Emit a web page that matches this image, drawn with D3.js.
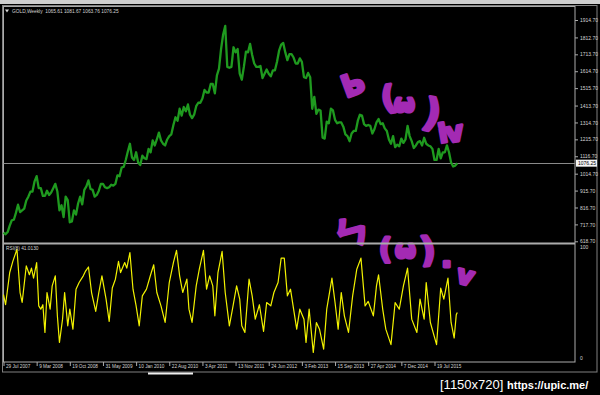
<!DOCTYPE html>
<html><head><meta charset="utf-8">
<script src="https://cdn.jsdelivr.net/npm/d3@7"></script>
<style>
html,body{margin:0;padding:0;background:#000;}
svg{display:block;}
</style></head><body>
<svg id="c" width="600" height="395"></svg>
<script>
// ---------------- data ----------------
const symbolName = "GOLD,Weekly";
const lastOHLC = ["1065.61", "1081.67", "1063.76", "1076.25"];
const lastPrice = 1076.25;
const weekStep = 2; // one close every 2 weeks, starting 29 Jul 2007
const priceClose = [
  // 2007
  670,660,673,710,742,745,785,833,790,800,810,858,
  // 2008
  880,910,910,970,1000,930,930,885,885,915,890,905,930,955,910,800,830,760,880,860,730,735,800,775,840,880,
  // 2009
  835,920,940,975,925,920,880,890,915,955,955,935,930,935,950,945,955,1005,1000,1050,1055,1095,1145,1190,1110,1095,
  // 2010
  1140,1080,1065,1120,1105,1100,1160,1140,1210,1180,1215,1255,1210,1190,1180,1215,1235,1245,1300,1345,1325,1395,1355,1405,1380,1420,
  // 2011
  1360,1340,1360,1410,1430,1430,1455,1505,1490,1490,1540,1540,1485,1590,1630,1745,1830,1880,1640,1635,1640,1755,1725,1745,1600,1565,
  // 2012
  1640,1730,1725,1775,1710,1660,1640,1640,1645,1575,1600,1625,1600,1585,1620,1620,1670,1735,1770,1780,1725,1680,1715,1715,1695,1660,
  // 2013
  1660,1690,1670,1580,1575,1605,1580,1395,1465,1365,1390,1385,1225,1220,1320,1310,1395,1385,1330,1310,1315,1315,1290,1245,1235,1205,
  // 2014
  1250,1265,1265,1325,1360,1355,1305,1295,1300,1295,1250,1275,1315,1335,1305,1310,1280,1265,1215,1190,1235,1170,1185,1175,1220,1195,
  // 2015
  1215,1295,1235,1205,1165,1180,1200,1205,1180,1225,1190,1180,1175,1160,1095,1095,1160,1105,1140,1140,1180,1140,1080,1057,1062,1076.25
];
const rsiLabel = "RSI(8) 41.0130";
const rsiWeek = [0,2,6,9,13,16,18,22,25,27,29,32,34,36,38,40,42,45,47,50,52,54,57,59,62,64,67,70,73,77,79,82,85,89,92,95,99,102,105,108,
  111,113,117,119,122,125,128,131,134,138,142,145,148,152,156,160,164,167,170,173,177,179,182,186,189,193,196,199,202,204,
  207,211,214,218,221,225,228,230,233,237,240,243,247,251,254,258,261,265,268,271,274,277,280,283,286,290,292,295,299,302,
  305,309,312,317,320,323,326,329,333,337,341,345,349,352,357,360,362,366,369,374,378,382,386,390,394,399,402,406,408,412,
  418,422,425,429,432,435,437,438];
const rsiValue = [57,48,77,87,98,59,50,83,75,81,72,86,47,44,48,23,59,44,65,74,38,14,35,59,29,44,26,62,68,74,78,82,59,42,59,74,53,33,63,71,
  87,77,86,81,95,62,47,29,56,62,75,84,59,47,32,68,86,97,74,59,71,44,32,65,80,97,62,74,65,38,
  77,96,59,29,44,65,53,29,23,71,56,35,48,24,50,47,59,68,90,90,56,62,44,26,44,35,14,44,5,32,
  26,8,44,72,50,26,59,38,23,56,80,90,47,51,38,65,75,44,26,12,50,44,65,81,35,23,53,35,68,32,
  12,63,53,72,32,18,39,41];
const priceTicks = [618.70,717.70,816.70,915.70,1014.70,1116.70,1215.70,1314.70,1413.70,1515.70,1614.70,1713.70,1812.70,1914.70];
const rsiTicks = [0, 100];
const dateTickWeeks = [0,32,64,96,128,160,192,224,256,288,320,352,384,416];
const dateTickLabels = ["29 Jul 2007","9 Mar 2008","19 Oct 2008","31 May 2009","10 Jan 2010","22 Aug 2010","3 Apr 2011",
  "13 Nov 2011","24 Jun 2012","3 Feb 2013","15 Sep 2013","27 Apr 2014","7 Dec 2014","19 Jul 2015"];
const doodleTop = ["Ь","(","ω",")","i","v"];
const doodleBottom = ["ㄣ","(","ω",")",".","v"];
const watermark = ["[1150x720]", "https://upic.me/"];

// ---------------- drawing ----------------
const svg = d3.select("#c");
const FONT = "Liberation Sans, Arial, sans-serif";
const txt = "#d4d4d4", frame = "#ababab";

svg.append("rect").attr("width",600).attr("height",395).attr("fill","#000");
svg.append("rect").attr("x",0).attr("y",0).attr("width",600).attr("height",4).attr("fill","#cfcfcf");

const x = d3.scaleLinear().domain([0,416]).range([3.5,434.5]);
const yP = d3.scaleLinear().domain([618.7,1914.7]).range([241.3,20]);
const yR = d3.scaleLinear().domain([0,100]).range([358,247]);

// window border
svg.append("rect").attr("x",2.5).attr("y",5.5).attr("width",594.5).attr("height",366.5)
  .attr("fill","none").attr("stroke","#808080");
// plot frame
svg.append("rect").attr("x",3.5).attr("y",6.5).attr("width",571.5).attr("height",355.5)
  .attr("fill","none").attr("stroke",frame);

// doodles (drawn under the separator)
const dg = svg.append("g").attr("fill","#a32ab3").attr("stroke","#a32ab3").attr("stroke-width",3)
  .attr("stroke-linejoin","round").attr("font-family","DejaVu Sans, Noto Sans CJK SC, sans-serif").attr("font-weight","bold");
const topPos = [[346,98,30,-20],[383,110,32,-10],[394,112,24,0],[421,124,38,12],[440,143,26,-10],[447,143,28,-10]];
doodleTop.forEach((c,i)=>{const p=topPos[i];
  dg.append("text").attr("transform",`translate(${p[0]},${p[1]}) rotate(${p[3]})`).attr("font-size",p[2]).text(c);});
const botPos = [[338,249,34,-15],[379,259,28,0],[395,258,24,0],[421,262,34,-5],[441,267,30,0],[455,282,26,15]];
doodleBottom.forEach((c,i)=>{const p=botPos[i];
  dg.append("text").attr("transform",`translate(${p[0]},${p[1]}) rotate(${p[3]})`)
    .attr("font-family", i===0 ? "Noto Sans CJK SC, sans-serif" : null).attr("font-size",p[2]).text(c);});

// separator between panels
svg.append("line").attr("x1",3).attr("x2",575).attr("y1",243.5).attr("y2",243.5)
  .attr("stroke",frame).attr("stroke-width",2);

// last price line
svg.append("line").attr("x1",3.5).attr("x2",575).attr("y1",Math.round(yP(lastPrice))+0.5).attr("y2",Math.round(yP(lastPrice))+0.5)
  .attr("stroke","#8a8a8a");

// price line
svg.append("path").datum(priceClose)
  .attr("d", d3.line().x((d,i)=>x(i*weekStep)).y(d=>yP(d)))
  .attr("fill","none").attr("stroke","#1f9a1f").attr("stroke-width",2.3).attr("stroke-linejoin","round");

// RSI line
svg.append("path").datum(rsiWeek.map((w,i)=>[w,rsiValue[i]]))
  .attr("d", d3.line().x(d=>x(d[0])).y(d=>yR(d[1])))
  .attr("fill","none").attr("stroke","#f2f200").attr("stroke-width",1.2).attr("stroke-linejoin","round");

// price axis
const ya = svg.append("g").attr("transform","translate(575,0)")
  .call(d3.axisRight(yP).tickValues(priceTicks).tickFormat(d3.format(".2f")).tickSize(3).tickPadding(2));
ya.select(".domain").remove();
ya.attr("font-family",FONT).attr("font-size",5);
ya.selectAll("line").attr("stroke",frame);
ya.selectAll("text").attr("fill",txt);

// last price label
const ly = yP(lastPrice);
svg.append("rect").attr("x",576).attr("y",ly-3.5).attr("width",21).attr("height",7).attr("fill","#f4f4f4");
svg.append("text").attr("x",578).attr("y",ly).attr("dy","0.35em").attr("font-family",FONT).attr("font-size",5)
  .attr("fill","#000").text(d3.format(".2f")(lastPrice));

// RSI axis
const ra = svg.append("g").attr("transform","translate(575,0)")
  .call(d3.axisRight(yR).tickValues(rsiTicks).tickFormat(d3.format("d")).tickSize(0).tickPadding(5));
ra.select(".domain").remove();
ra.attr("font-family",FONT).attr("font-size",5);
ra.selectAll("text").attr("fill",txt);

// date axis
const xa = svg.append("g").attr("transform","translate(0,362)")
  .call(d3.axisBottom(x).tickValues(dateTickWeeks).tickFormat((d,i)=>dateTickLabels[i]).tickSize(4).tickPadding(1));
xa.select(".domain").remove();
xa.attr("font-family",FONT).attr("font-size",4.7);
xa.selectAll("line").attr("stroke",frame);
xa.selectAll("text").attr("fill",txt).attr("text-anchor","start").attr("x",2).attr("y",3);

// titles
svg.append("path").attr("d","M5,9.5 L9,9.5 L7,12.5 Z").attr("fill","#d8d8d8");
svg.append("text").attr("x",12).attr("y",13).attr("font-family",FONT).attr("font-size",4.8).attr("fill",txt)
  .attr("xml:space","preserve").text(symbolName + "  " + lastOHLC.join(" "));
svg.append("text").attr("x",6).attr("y",250).attr("font-family",FONT).attr("font-size",4.8).attr("fill",txt)
  .text(rsiLabel);

// bottom tab highlight
svg.append("rect").attr("x",148).attr("y",372.5).attr("width",45).attr("height",2).attr("fill","#f0f0f0");

// watermark
svg.append("text").attr("x",440).attr("y",388.5).attr("font-family",FONT).attr("font-size",13).attr("fill","#fff")
  .text(watermark[0]);
svg.append("text").attr("x",507).attr("y",388.5).attr("font-family",FONT)
  .attr("font-weight","bold").attr("font-size",11).attr("fill","#fff").text(watermark[1]);
</script>
</body></html>
